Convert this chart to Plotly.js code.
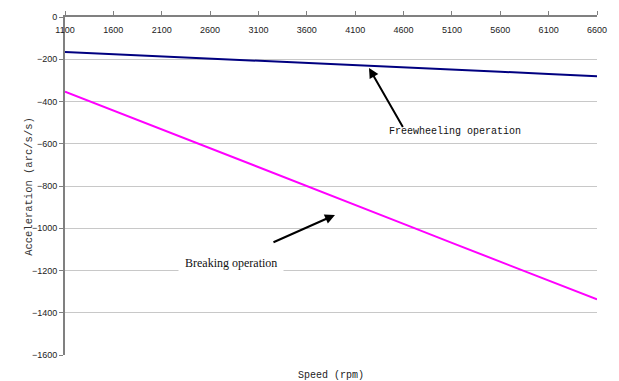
<!DOCTYPE html>
<html>
<head>
<meta charset="utf-8">
<script src="https://cdn.plot.ly/plotly-3.0.1.min.js"></script>
<style>html,body{margin:0;padding:0;background:#fff;}#chart{width:619px;height:381px;}</style>
</head>
<body>
<div id="chart"></div>
<script>
// Data
var speedRpm = [1100, 1600, 2100, 2600, 3100, 3600, 4100, 4600, 5100, 5600, 6100, 6600];
var freewheeling = [-166, -176, -187, -197, -207, -218, -228, -238, -249, -259, -270, -280];
var breaking = [-353, -442, -532, -621, -711, -800, -890, -979, -1069, -1158, -1248, -1337];
var xTickVals = [1100, 1600, 2100, 2600, 3100, 3600, 4100, 4600, 5100, 5600, 6100, 6600];
var yTickVals = [0, -200, -400, -600, -800, -1000, -1200, -1400, -1600];

var traces = [
  {x: speedRpm, y: freewheeling, type: 'scatter', mode: 'lines', name: 'Freewheeling operation',
   line: {color: '#000080', width: 2}},
  {x: speedRpm, y: breaking, type: 'scatter', mode: 'lines', name: 'Breaking operation',
   line: {color: '#ff00ff', width: 2}}
];

var layout = {
  width: 619, height: 381,
  margin: {l: 65, r: 22, t: 17, b: 26, pad: 0},
  paper_bgcolor: '#ffffff', plot_bgcolor: '#ffffff',
  showlegend: false,
  font: {family: 'Liberation Sans, Arial, sans-serif', size: 9, color: '#222'},
  xaxis: {
    range: [1100, 6600], side: 'top', tickvals: xTickVals,
    ticktext: xTickVals.map(String),
    ticks: 'outside', ticklen: 4, tickcolor: '#808080', tickwidth: 1,
    ticklabelposition: 'inside', ticklabeloverflow: 'allow', ticklabelstandoff: 9,
    showline: true, linecolor: '#808080', linewidth: 2,
    showgrid: false, zeroline: false,
    tickfont: {family: 'Liberation Sans, Arial, sans-serif', size: 9, color: '#222'}
  },
  yaxis: {
    range: [-1600, 0], tickvals: yTickVals,
    ticks: 'outside', ticklen: 4, tickcolor: '#808080', tickwidth: 1,
    showline: true, linecolor: '#808080', linewidth: 2,
    showgrid: true, gridcolor: '#c8c8c8', gridwidth: 1, zeroline: false,
    tickfont: {family: 'Liberation Sans, Arial, sans-serif', size: 9, color: '#222'}
  },
  annotations: [
    {xref: 'paper', yref: 'paper', x: -0.083, y: 0.5, text: 'Acceleration (arc/s/s)', textangle: -90,
     showarrow: false, font: {family: 'Liberation Mono, monospace', size: 10.5, color: '#333'}},
    {xref: 'paper', yref: 'paper', x: 0.5, y: -0.062, yanchor: 'middle', text: 'Speed (rpm)',
     showarrow: false, font: {family: 'Liberation Mono, monospace', size: 10, color: '#222'}},
    {x: 4243, y: -241, ax: 35, ay: 61, text: ' ', showarrow: true, arrowhead: 2, arrowsize: 1,
     arrowwidth: 2, arrowcolor: '#000', standoff: 0, font: {size: 1}},
    {x: 5132, y: -544, text: 'Freewheeling operation', showarrow: false,
     font: {family: 'Liberation Mono, monospace', size: 10, color: '#111'}},
    {x: 3891, y: -937, ax: -63, ay: 28, text: ' ', showarrow: true, arrowhead: 2, arrowsize: 1,
     arrowwidth: 2, arrowcolor: '#000', standoff: 0, font: {size: 1}},
    {x: 2816, y: -1164, text: 'Breaking operation', showarrow: false, bgcolor: '#ffffff', borderpad: 6,
     font: {family: 'Liberation Serif, Times New Roman, serif', size: 12, color: '#111'}}
  ]
};

Plotly.newPlot('chart', traces, layout, {staticPlot: true, displayModeBar: false});
</script>
</body>
</html>
